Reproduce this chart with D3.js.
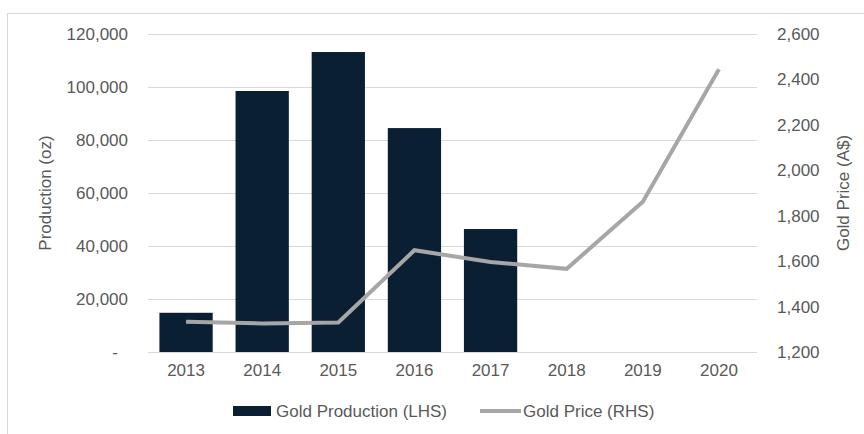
<!DOCTYPE html>
<html>
<head>
<meta charset="utf-8">
<script src="https://cdn.jsdelivr.net/npm/d3@7"></script>
<style>
  body { margin: 0; background: #fff; }
  text { font-family: "Liberation Sans", Arial, sans-serif; fill: #595959; }
</style>
</head>
<body>
<div id="chart"></div>
<script>
// Chart values.
const years = ["2013", "2014", "2015", "2016", "2017", "2018", "2019", "2020"];
const productionYears = ["2013", "2014", "2015", "2016", "2017"];
const production = [14800, 98500, 113200, 84500, 46400];
const goldPrice = [1333, 1326, 1330, 1648, 1596, 1566, 1862, 2445];
const leftTicks = [0, 20000, 40000, 60000, 80000, 100000, 120000];
const rightTicks = [1200, 1400, 1600, 1800, 2000, 2200, 2400, 2600];

const WIDTH = 864;
const HEIGHT = 434;
const PLOT = { left: 148, right: 757, top: 34, bottom: 352 };
const FONT_SIZE = 17;

const svg = d3.select("#chart").append("svg")
  .attr("width", WIDTH)
  .attr("height", HEIGHT);

// Light frame around the chart, only top and left edges are visible.
svg.append("rect")
  .attr("x", 7.5).attr("y", 13.5)
  .attr("width", 900).attr("height", 500)
  .attr("fill", "none")
  .attr("stroke", "#d9d9d9");

const xScale = d3.scaleBand()
  .domain(years)
  .range([PLOT.left, PLOT.right])
  .paddingInner(0.3)
  .paddingOuter(0.15);

const yLeft = d3.scaleLinear()
  .domain([0, 120000])
  .range([PLOT.bottom, PLOT.top]);

const yRight = d3.scaleLinear()
  .domain([1200, 2600])
  .range([PLOT.bottom, PLOT.top]);

// Gridlines
svg.append("g").selectAll("line")
  .data(leftTicks)
  .join("line")
  .attr("x1", PLOT.left).attr("x2", PLOT.right)
  .attr("y1", d => Math.round(yLeft(d)) + 0.5)
  .attr("y2", d => Math.round(yLeft(d)) + 0.5)
  .attr("stroke", "#d9d9d9");

// Bars
svg.append("g").selectAll("rect")
  .data(productionYears.map((y, i) => ({ year: y, value: production[i] })))
  .join("rect")
  .attr("x", d => xScale(d.year))
  .attr("y", d => yLeft(d.value))
  .attr("width", xScale.bandwidth())
  .attr("height", d => yLeft(0) - yLeft(d.value))
  .attr("fill", "#0b1f33");

// Price line
const line = d3.line()
  .x((d, i) => xScale(years[i]) + xScale.bandwidth() / 2)
  .y(d => yRight(d));

svg.append("path")
  .datum(goldPrice)
  .attr("d", line)
  .attr("fill", "none")
  .attr("stroke", "#a6a6a6")
  .attr("stroke-width", 4);

// Axes
const fmt = d3.format(",");

const leftAxis = svg.append("g")
  .attr("transform", `translate(${PLOT.left},0)`)
  .call(d3.axisLeft(yLeft).tickValues(leftTicks)
    .tickFormat(d => d === 0 ? "-" : fmt(d))
    .tickSize(0).tickPadding(20));
leftAxis.select(".domain").remove();
leftAxis.selectAll("text")
  .attr("font-size", FONT_SIZE)
  .attr("font-family", null)
  .attr("dx", d => d === 0 ? -10 : 0);

const rightAxis = svg.append("g")
  .attr("transform", `translate(${PLOT.right},0)`)
  .call(d3.axisRight(yRight).tickValues(rightTicks)
    .tickFormat(fmt).tickSize(0).tickPadding(20));
rightAxis.select(".domain").remove();
rightAxis.selectAll("text")
  .attr("font-size", FONT_SIZE)
  .attr("font-family", null);

const bottomAxis = svg.append("g")
  .attr("transform", `translate(0,${PLOT.bottom})`)
  .call(d3.axisBottom(xScale).tickSize(0).tickPadding(12));
bottomAxis.select(".domain").remove();
bottomAxis.selectAll("text")
  .attr("font-size", FONT_SIZE)
  .attr("font-family", null);

// Axis titles
svg.append("text")
  .attr("transform", `translate(51,${(PLOT.top + PLOT.bottom) / 2}) rotate(-90)`)
  .attr("text-anchor", "middle")
  .attr("font-size", FONT_SIZE)
  .text("Production (oz)");

svg.append("text")
  .attr("transform", `translate(849,${(PLOT.top + PLOT.bottom) / 2}) rotate(-90)`)
  .attr("text-anchor", "middle")
  .attr("font-size", FONT_SIZE)
  .text("Gold Price (A$)");

// Legend
const legend = svg.append("g").attr("transform", "translate(0,411)");
legend.append("rect")
  .attr("x", 233).attr("y", -5)
  .attr("width", 38).attr("height", 10)
  .attr("fill", "#0b1f33");
legend.append("text")
  .attr("x", 276).attr("y", 6)
  .attr("font-size", FONT_SIZE)
  .text("Gold Production (LHS)");
legend.append("line")
  .attr("x1", 480).attr("x2", 521)
  .attr("stroke", "#a6a6a6")
  .attr("stroke-width", 4);
legend.append("text")
  .attr("x", 523).attr("y", 6)
  .attr("font-size", FONT_SIZE)
  .text("Gold Price (RHS)");
</script>
</body>
</html>
